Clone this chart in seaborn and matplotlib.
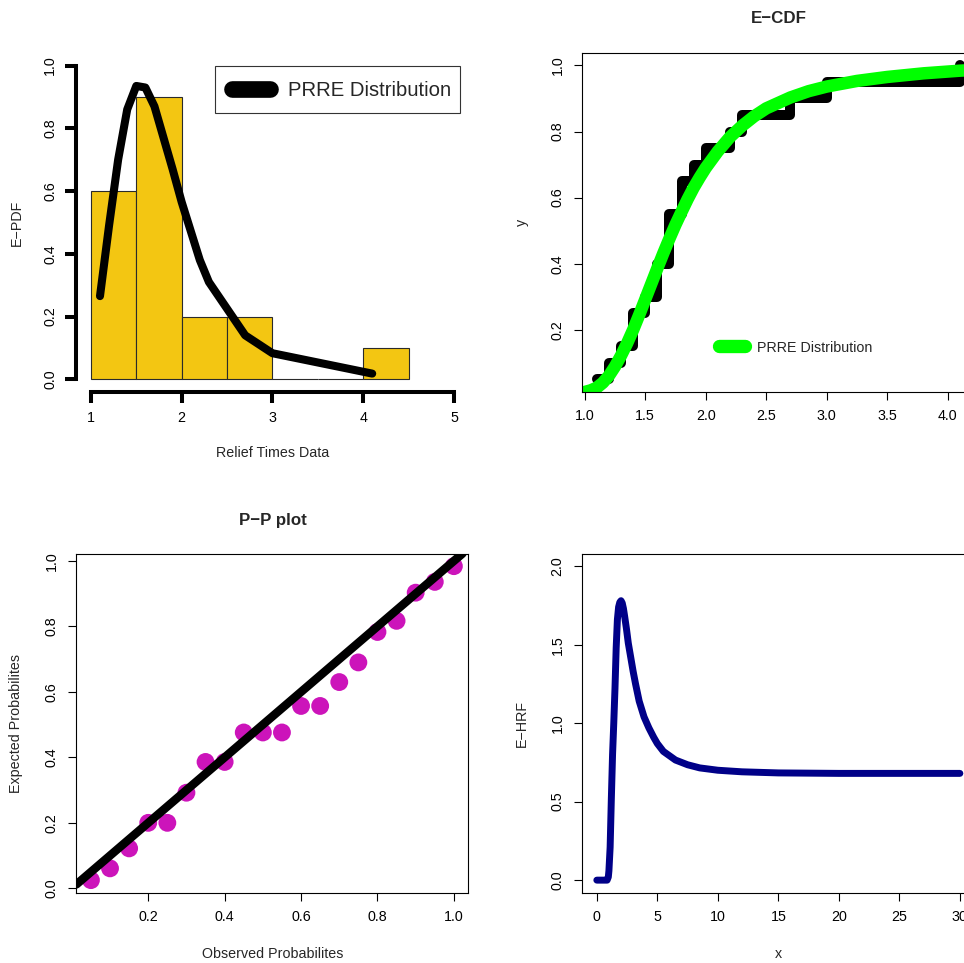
import numpy as np
import matplotlib
matplotlib.use("Agg")
import matplotlib.pyplot as plt
from matplotlib.lines import Line2D
from matplotlib.legend_handler import HandlerLine2D
import seaborn as sns

# Relief times data (20 obs)
relief = [1.1, 1.4, 1.3, 1.7, 1.9, 1.8, 1.6, 2.2, 1.7, 2.7,
          4.1, 1.8, 1.5, 1.2, 1.4, 3.0, 1.7, 2.3, 1.6, 2.0]

# histogram (density scale)
hist_edges = [1.0, 1.5, 2.0, 2.5, 3.0, 3.5, 4.0, 4.5]
hist_density = [0.6, 0.9, 0.2, 0.2, 0.0, 0.0, 0.1]

# fitted PRRE pdf at the data points
pdf_x = [1.1, 1.2, 1.3, 1.4, 1.5, 1.6, 1.7, 1.8, 1.9, 2.0, 2.2, 2.3, 2.7, 3.0, 4.1]
pdf_y = [0.265, 0.49, 0.70, 0.86, 0.935, 0.93, 0.87, 0.77, 0.67, 0.565,
         0.38, 0.31, 0.14, 0.083, 0.018]

# fitted PRRE cdf
cdf_x = [0.98, 1.0, 1.05, 1.1, 1.15, 1.2, 1.25, 1.3, 1.35, 1.4, 1.45, 1.5, 1.55, 1.6,
         1.65, 1.7, 1.75, 1.8, 1.85, 1.9, 1.95, 2.0, 2.1, 2.2, 2.3, 2.4, 2.5, 2.7,
         2.85, 3.0, 3.25, 3.5, 3.8, 4.1, 4.25]
cdf_y = [0.009, 0.012, 0.017, 0.025, 0.040, 0.061, 0.089, 0.122, 0.159, 0.200,
         0.245, 0.292, 0.339, 0.386, 0.432, 0.476, 0.518, 0.557, 0.595, 0.630,
         0.661, 0.690, 0.740, 0.783, 0.817, 0.846, 0.870, 0.903, 0.922, 0.936,
         0.953, 0.965, 0.976, 0.984, 0.987]

# P-P plot
pp_observed = [0.05, 0.10, 0.15, 0.20, 0.25, 0.30, 0.35, 0.40, 0.45, 0.50,
               0.55, 0.60, 0.65, 0.70, 0.75, 0.80, 0.85, 0.90, 0.95, 1.00]
pp_expected = [0.025, 0.061, 0.122, 0.200, 0.200, 0.292, 0.386, 0.386, 0.476, 0.476,
               0.476, 0.557, 0.557, 0.630, 0.690, 0.783, 0.817, 0.903, 0.936, 0.984]

# hazard rate function
hrf_x = [0, 0.5, 0.85, 0.95, 1.0, 1.1, 1.2, 1.3, 1.4, 1.5, 1.6, 1.7, 1.8, 1.9, 2.0,
         2.1, 2.2, 2.3, 2.45, 2.6, 2.8, 3.0, 3.2, 3.5, 3.9, 4.3, 4.7, 5.0, 5.5, 6.5,
         7.5, 8.5, 10, 12, 15, 20, 25, 30]
hrf_y = [0, 0, 0.0, 0.02, 0.06, 0.21, 0.52, 0.80, 1.0, 1.22, 1.48, 1.66, 1.74, 1.77, 1.78,
         1.765, 1.73, 1.68, 1.60, 1.51, 1.42, 1.33, 1.25, 1.14, 1.04, 0.97, 0.91, 0.87,
         0.82, 0.765, 0.735, 0.715, 0.70, 0.69, 0.683, 0.68, 0.68, 0.68]

# ticks
tl_xticks = [1, 2, 3, 4, 5]
tl_yticks = [0.0, 0.2, 0.4, 0.6, 0.8, 1.0]
tr_xticks = [1.0, 1.5, 2.0, 2.5, 3.0, 3.5, 4.0]
tr_yticks = [0.2, 0.4, 0.6, 0.8, 1.0]
bl_xticks = [0.2, 0.4, 0.6, 0.8, 1.0]
bl_yticks = [0.0, 0.2, 0.4, 0.6, 0.8, 1.0]
br_xticks = [0, 5, 10, 15, 20, 25, 30]
br_yticks = [0.0, 0.5, 1.0, 1.5, 2.0]

# ecdf of the data
ecdf_x = np.unique(relief)
ecdf_y = [np.mean(np.array(relief) <= v) for v in ecdf_x]

sns.set_style("ticks")
plt.rcParams['font.family'] = ['Liberation Sans', 'DejaVu Sans']

W, H = 964, 963
fig = plt.figure(figsize=(W / 100, H / 100), dpi=100)

FS = 10.3


def add_panel(left, top, right, bottom):
    return fig.add_axes([left / W, 1 - bottom / H, (right - left) / W, (bottom - top) / H])


class CapLine(HandlerLine2D):
    # keep round caps inside the handle box, optional vertical nudge
    def __init__(self, cap, dy=0.0, **kw):
        super().__init__(**kw)
        self.cap = cap
        self.dy = dy

    def get_xdata(self, legend, xdescent, ydescent, width, height, fontsize):
        return [-xdescent + self.cap, -xdescent + width - self.cap], [-xdescent + 0.5 * width]

    def create_artists(self, *args, **kw):
        arts = super().create_artists(*args, **kw)
        for a in arts:
            a.set_ydata(np.asarray(a.get_ydata()) - self.dy)
        return arts


def set_ticks(ax, xt, yt, xfmt, yfmt):
    ax.set_xticks(xt, [xfmt.format(v) for v in xt])
    ax.set_yticks(yt, [yfmt.format(v) for v in yt])
    for lab in ax.get_yticklabels():
        lab.set_rotation(90)
        lab.set_va('center')


def labels(ax, xl, yl):
    ax.set_xlabel(xl, fontsize=FS)
    ax.set_ylabel(yl, fontsize=FS)
    ax.xaxis.set_label_coords(0.5, -0.181)
    ax.yaxis.set_label_coords(-0.153, 0.5)
    ax.xaxis.label.set_va('center')
    ax.yaxis.label.set_va('center')


def r_box(ax):
    for s in ax.spines.values():
        s.set_visible(True)
        s.set_linewidth(0.8)
        s.set_color('black')
    ax.tick_params(direction='out', length=5.5, width=0.8, color='black', labelsize=FS,
                   labelcolor='black')
    ax.tick_params(axis='x', pad=7.0)
    ax.tick_params(axis='y', pad=7.4)


# ---- top left: histogram + pdf
ax = add_panel(76.4, 53.0, 468.4, 391.8)
sns.histplot(x=hist_edges[:-1], weights=hist_density, bins=hist_edges, color='#F3C612',
             alpha=1, edgecolor='#2a2a2a', linewidth=0.8, ax=ax)
sns.lineplot(x=pdf_x, y=pdf_y, color='black', linewidth=5.8, solid_capstyle='round',
             solid_joinstyle='round', ax=ax)
ax.set_xlim(0.84, 5.16)
ax.set_ylim(-0.04, 1.04)
ax.spines[['top', 'right']].set_visible(False)
ax.spines['left'].set_bounds(0, 1)
ax.spines['bottom'].set_bounds(1, 5)
ax.spines[['left', 'bottom']].set_linewidth(2.9)
ax.spines[['left', 'bottom']].set_color('black')
ax.tick_params(direction='out', length=8, width=2.9, color='black', labelsize=FS, labelcolor='black')
ax.tick_params(axis='x', pad=6.0)
ax.tick_params(axis='y', pad=5.8)
set_ticks(ax, tl_xticks, tl_yticks, '{:d}', '{:.1f}')
labels(ax, 'Relief Times Data', 'E\u2212PDF')
leg = ax.legend([Line2D([], [], color='black', lw=12.0, solid_capstyle='round')],
                ['PRRE Distribution'], loc='upper right',
                bbox_to_anchor=(460 / W, 1 - 65.7 / H), bbox_transform=fig.transFigure,
                borderaxespad=0, fontsize=14.6, frameon=True, fancybox=False,
                framealpha=1, edgecolor='#333333', borderpad=0.444, handlelength=2.71,
                handletextpad=0.444, handleheight=1.85,
                handler_map={Line2D: CapLine(6.0, dy=3.0)})
leg.get_frame().set_linewidth(0.8)

# ---- top right: ECDF
ax = add_panel(582.3, 53.0, 974.4, 391.8)
sns.lineplot(x=ecdf_x, y=ecdf_y, drawstyle='steps-post', color='black', linewidth=7.2,
             solid_capstyle='round', solid_joinstyle='round', ax=ax)
sns.lineplot(x=cdf_x, y=cdf_y, color='#00FF00', linewidth=9.0, solid_capstyle='round',
             solid_joinstyle='round', ax=ax)
ax.set_xlim(0.98, 4.22)
ax.set_ylim(0.0125, 1.0375)
r_box(ax)
set_ticks(ax, tr_xticks, tr_yticks, '{:.1f}', '{:.1f}')
labels(ax, '', 'y')
ax.set_title('E\u2212CDF', fontsize=12.2, fontweight='bold', y=1.102, va='center', pad=0)
ax.legend([Line2D([], [], color='#00FF00', lw=9.6, solid_capstyle='round')],
          ['PRRE Distribution'], loc='center left',
          bbox_to_anchor=(706.6 / W, 1 - 347.5 / H), bbox_transform=fig.transFigure,
          borderaxespad=0, fontsize=FS, frameon=False, borderpad=0.4,
          handlelength=2.755, handletextpad=0.36, handler_map={Line2D: CapLine(4.8)})

# ---- bottom left: P-P plot
ax = add_panel(76.4, 553.6, 468.4, 892.7)
sns.scatterplot(x=pp_observed, y=pp_expected, color='#CC14BA', s=165, edgecolor='none',
                linewidth=0, ax=ax)
ax.axline((0, 0), slope=1, color='black', linewidth=6.1, zorder=5)
ax.set_xlim(0.012, 1.038)
ax.set_ylim(-0.0134, 1.0224)
r_box(ax)
set_ticks(ax, bl_xticks, bl_yticks, '{:.1f}', '{:.1f}')
labels(ax, 'Observed Probabilites', 'Expected Probabilites')
ax.set_title('P\u2212P plot', fontsize=12.2, fontweight='bold', y=1.099, va='center', pad=0)

# ---- bottom right: hazard rate
ax = add_panel(582.3, 553.6, 974.4, 892.7)
sns.lineplot(x=hrf_x, y=hrf_y, color='#000088', linewidth=5.0, solid_capstyle='round',
             solid_joinstyle='round', ax=ax)
ax.set_xlim(-1.2, 31.2)
ax.set_ylim(-0.08, 2.08)
r_box(ax)
set_ticks(ax, br_xticks, br_yticks, '{:d}', '{:.1f}')
labels(ax, 'x', 'E\u2212HRF')

fig.savefig('out.png', dpi=100)
